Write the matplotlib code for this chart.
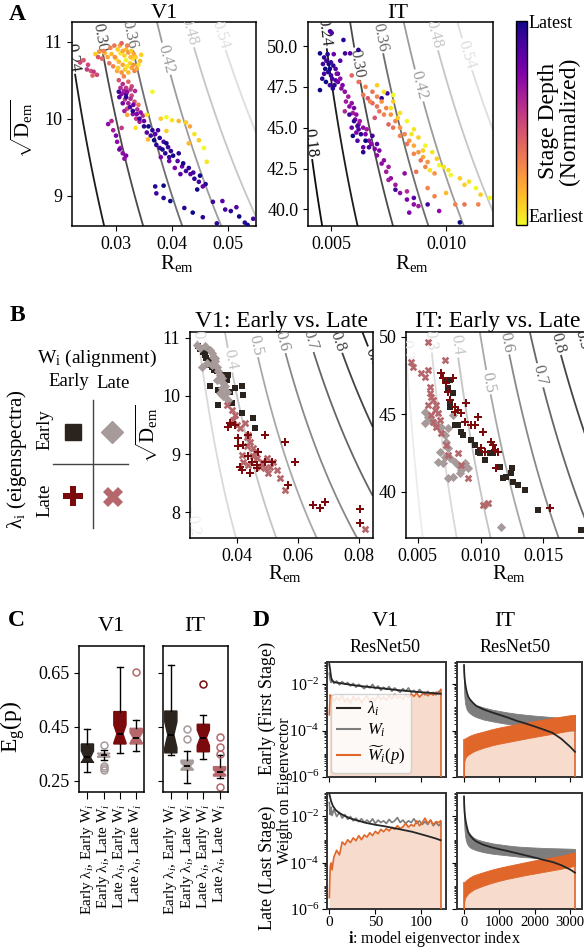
import numpy as np
import matplotlib
matplotlib.use("Agg")
import matplotlib.pyplot as plt
from matplotlib.lines import Line2D
from matplotlib.ticker import FixedLocator, LogLocator, NullFormatter, LogFormatterMathtext

plt.rcParams.update({
    "font.family": ["Liberation Serif", "DejaVu Serif"],
    "mathtext.fontset": "custom",
    "mathtext.rm": "Liberation Serif",
    "mathtext.it": "Liberation Serif:italic",
    "mathtext.bf": "Liberation Serif:bold",
    "axes.linewidth": 1.1,
    "xtick.labelsize": 13,
    "ytick.labelsize": 13,
})

# ---------------------------------------------------------------- data
# Panel A: (R_em, sqrt(D_em), normalized stage depth) per model stage
A_V1 = [
    (0.0270, 10.87, 0.25), (0.0280, 10.85, 0.15), (0.0290, 10.92, 0.30), (0.0297, 10.95, 0.35),
    (0.0303, 10.90, 0.10), (0.0308, 10.85, 0.05), (0.0312, 10.88, 0.20), (0.0318, 10.90, 0.15),
    (0.0322, 10.86, 0.25), (0.0327, 10.88, 0.10), (0.0332, 10.84, 0.20), (0.0300, 10.78, 0.05),
    (0.0305, 10.74, 0.15), (0.0312, 10.70, 0.20), (0.0318, 10.76, 0.00), (0.0325, 10.72, 0.10),
    (0.0330, 10.78, 0.05), (0.0335, 10.80, 0.10), (0.0295, 10.68, 0.30), (0.0302, 10.62, 0.20),
    (0.0310, 10.60, 0.25), (0.0316, 10.64, 0.10), (0.0322, 10.60, 0.15), (0.0328, 10.66, 0.20),
    (0.0333, 10.62, 0.30), (0.0340, 10.70, 0.05), (0.0345, 10.83, 0.10), (0.0285, 10.80, 0.20),
    (0.0278, 10.88, 0.30), (0.0263, 10.84, 0.10),
    (0.0292, 10.84, 0.15), (0.0298, 10.80, 0.25), (0.0307, 10.95, 0.20), (0.0315, 10.82, 0.10),
    (0.0320, 10.95, 0.30), (0.0326, 10.80, 0.15), (0.0331, 10.70, 0.25), (0.0337, 10.65, 0.20),
    (0.0304, 10.66, 0.10), (0.0314, 10.55, 0.30), (0.0320, 10.68, 0.05), (0.0288, 10.72, 0.35),
    (0.0275, 10.78, 0.40), (0.0268, 10.80, 0.45), (0.0310, 10.98, 0.40), (0.0343, 10.75, 0.15),
    (0.0236, 10.73, 0.50), (0.0242, 10.76, 0.45), (0.0250, 10.70, 0.50), (0.0255, 10.62, 0.45),
    (0.0260, 10.61, 0.55), (0.0266, 10.57, 0.50), (0.0258, 10.56, 0.40), (0.0248, 10.64, 0.55),
    (0.0305, 10.50, 0.45), (0.0312, 10.45, 0.60), (0.0318, 10.40, 0.55), (0.0322, 10.48, 0.40),
    (0.0328, 10.42, 0.50), (0.0334, 10.36, 0.60), (0.0310, 10.32, 0.70), (0.0316, 10.25, 0.55),
    (0.0322, 10.20, 0.65), (0.0328, 10.30, 0.50), (0.0333, 10.22, 0.45), (0.0338, 10.12, 0.60),
    (0.0330, 10.06, 0.70), (0.0336, 10.00, 0.55), (0.0342, 9.96, 0.65), (0.0348, 10.04, 0.60),
    (0.0320, 10.13, 0.50), (0.0312, 10.20, 0.75), (0.0306, 10.28, 0.85), (0.0318, 10.32, 0.90),
    (0.0325, 10.15, 0.85), (0.0340, 10.18, 0.35),
    (0.0308, 10.40, 0.60), (0.0314, 10.36, 0.65), (0.0320, 10.35, 0.70), (0.0326, 10.26, 0.60),
    (0.0331, 10.18, 0.80), (0.0337, 10.06, 0.75), (0.0344, 10.08, 0.70), (0.0350, 9.97, 0.80),
    (0.0326, 10.38, 0.55), (0.0315, 10.10, 0.65),
    (0.0305, 10.35, 0.90), (0.0318, 10.28, 0.95), (0.0330, 10.10, 0.95), (0.0342, 10.00, 0.90),
    (0.0350, 9.90, 0.95), (0.0355, 9.82, 0.85), (0.0362, 9.78, 0.90), (0.0368, 9.72, 1.00),
    (0.0372, 9.66, 0.95), (0.0378, 9.62, 0.90), (0.0383, 9.60, 1.00), (0.0388, 9.55, 0.95),
    (0.0385, 9.70, 0.85), (0.0393, 9.63, 0.90), (0.0398, 9.58, 0.95), (0.0402, 9.52, 1.00),
    (0.0410, 9.45, 0.85), (0.0418, 9.38, 0.80), (0.0425, 9.32, 0.90), (0.0433, 9.28, 0.85),
    (0.0440, 9.22, 0.95), (0.0448, 9.18, 0.90), (0.0455, 9.12, 0.80), (0.0445, 9.08, 1.00),
    (0.0405, 9.36, 0.75), (0.0395, 9.45, 0.80), (0.0375, 9.85, 0.90), (0.0380, 9.50, 0.75),
    (0.0358, 9.90, 1.00), (0.0365, 9.85, 0.95), (0.0370, 9.80, 0.85), (0.0378, 9.75, 0.95),
    (0.0390, 9.68, 1.00), (0.0395, 9.50, 0.90), (0.0412, 9.55, 0.95), (0.0420, 9.42, 1.00),
    (0.0430, 9.36, 0.95), (0.0438, 9.30, 0.90), (0.0450, 9.26, 1.00), (0.0460, 9.15, 0.95),
    (0.0415, 9.28, 0.85),
    (0.0370, 9.12, 0.95), (0.0385, 9.13, 1.00), (0.0372, 9.03, 0.90), (0.0385, 8.97, 0.95),
    (0.0397, 8.93, 1.00), (0.0422, 8.84, 0.95), (0.0437, 8.78, 1.00), (0.0455, 8.72, 0.95),
    (0.0473, 8.92, 0.90), (0.0490, 8.93, 0.85), (0.0495, 8.82, 0.90), (0.0505, 8.80, 0.95),
    (0.0515, 8.85, 0.85), (0.0520, 8.73, 1.00), (0.0530, 8.65, 0.95), (0.0545, 8.70, 0.90),
    (0.0535, 8.62, 1.00), (0.0480, 8.64, 0.95),
    (0.0286, 9.93, 0.70), (0.0295, 9.85, 0.65), (0.0300, 9.78, 0.75), (0.0302, 9.70, 0.70),
    (0.0308, 9.62, 0.65), (0.0312, 9.55, 0.70), (0.0318, 9.52, 0.75), (0.0292, 9.97, 0.60),
    (0.0306, 9.60, 0.80), (0.0315, 9.48, 0.70), (0.0310, 9.88, 0.55),
    (0.0365, 10.35, 0.00), (0.0355, 10.05, 0.05), (0.0380, 10.00, 0.10), (0.0390, 10.02, 0.00),
    (0.0400, 9.98, 0.05), (0.0412, 9.97, 0.15), (0.0425, 9.95, 0.10), (0.0432, 9.90, 0.20),
    (0.0440, 9.80, 0.05), (0.0448, 9.72, 0.10), (0.0457, 9.62, 0.00), (0.0462, 9.44, 0.05),
    (0.0430, 9.68, 0.15), (0.0390, 9.84, 0.10), (0.0335, 9.88, 0.05), (0.0320, 10.05, 0.20),
    (0.0357, 9.73, 0.15),
]

A_IT = [
    (0.00496, 50.90, 0.90), (0.00503, 50.80, 0.85), (0.00554, 50.37, 0.95), (0.00561, 49.55, 0.90),
    (0.00583, 49.55, 0.85), (0.00619, 49.76, 0.95), (0.00452, 49.55, 1.00), (0.00470, 49.30, 0.95),
    (0.00480, 49.10, 0.90), (0.00490, 48.90, 1.00), (0.00500, 49.00, 0.90), (0.00510, 48.80, 0.95),
    (0.00475, 48.60, 1.00), (0.00488, 48.40, 0.95), (0.00500, 48.20, 0.90), (0.00462, 48.00, 0.95),
    (0.00478, 47.80, 1.00), (0.00495, 47.60, 0.90), (0.00508, 47.40, 0.95), (0.00520, 47.90, 0.85),
    (0.00530, 48.30, 0.90), (0.00465, 48.90, 0.90), (0.00512, 49.50, 0.80), (0.00540, 49.10, 0.85),
    (0.00452, 47.30, 1.00),
    (0.00485, 49.50, 0.95), (0.00495, 48.60, 1.00), (0.00505, 48.00, 0.90), (0.00515, 47.60, 0.95),
    (0.00470, 48.30, 0.90), (0.00520, 48.60, 0.85), (0.00530, 47.80, 0.80),
    (0.00525, 48.30, 0.75), (0.00540, 48.00, 0.70), (0.00550, 47.60, 0.75), (0.00560, 47.20, 0.70),
    (0.00575, 46.90, 0.65), (0.00590, 46.50, 0.70), (0.00600, 46.20, 0.75), (0.00610, 45.80, 0.70),
    (0.00625, 45.40, 0.65), (0.00640, 45.00, 0.70), (0.00650, 44.60, 0.75), (0.00665, 44.20, 0.70),
    (0.00690, 43.70, 0.75), (0.00700, 43.30, 0.70), (0.00590, 45.00, 0.80), (0.00610, 44.70, 0.75),
    (0.00640, 43.80, 0.80), (0.00560, 46.00, 0.60), (0.00720, 42.80, 0.70), (0.00740, 42.30, 0.65),
    (0.00760, 41.90, 0.70), (0.00780, 41.50, 0.65), (0.00800, 41.00, 0.70), (0.00830, 40.60, 0.75),
    (0.00860, 40.30, 0.70), (0.00820, 42.20, 0.70),
    (0.00545, 47.40, 0.70), (0.00565, 46.60, 0.65), (0.00580, 46.30, 0.70), (0.00595, 45.90, 0.65),
    (0.00605, 45.50, 0.75), (0.00620, 45.20, 0.70), (0.00655, 44.90, 0.65), (0.00675, 44.00, 0.70),
    (0.00710, 43.60, 0.75), (0.00730, 43.00, 0.70), (0.00750, 42.60, 0.65),
    (0.00580, 45.80, 0.90), (0.00600, 45.40, 0.95), (0.00615, 45.10, 0.90), (0.00630, 44.60, 0.95),
    (0.00650, 44.20, 1.00), (0.00665, 43.80, 0.90), (0.00640, 43.50, 0.95), (0.00615, 44.20, 0.85),
    (0.00595, 44.50, 1.00), (0.00680, 44.50, 0.90), (0.00700, 44.00, 0.85), (0.00720, 46.80, 0.95),
    (0.00745, 47.10, 0.90), (0.00620, 44.90, 0.85),
    (0.00590, 48.20, 0.40), (0.00620, 47.80, 0.35), (0.00650, 47.50, 0.30), (0.00680, 47.20, 0.35),
    (0.00700, 46.90, 0.30), (0.00720, 46.60, 0.25), (0.00740, 46.20, 0.30), (0.00760, 45.80, 0.25),
    (0.00780, 45.40, 0.30), (0.00800, 45.00, 0.25), (0.00820, 44.60, 0.30), (0.00840, 44.20, 0.25),
    (0.00860, 43.90, 0.20), (0.00880, 43.50, 0.25), (0.00900, 43.20, 0.20), (0.00920, 42.90, 0.25),
    (0.00680, 46.50, 0.40), (0.00710, 46.00, 0.35), (0.00750, 45.20, 0.40), (0.00690, 45.60, 0.45),
    (0.00660, 46.80, 0.45),
    (0.00640, 47.00, 0.35), (0.00670, 46.60, 0.30), (0.00700, 46.30, 0.35), (0.00730, 45.80, 0.30),
    (0.00770, 45.00, 0.35), (0.00800, 44.50, 0.30), (0.00830, 44.00, 0.35), (0.00860, 43.40, 0.30),
    (0.00890, 43.00, 0.35), (0.00910, 42.60, 0.30), (0.00950, 42.20, 0.25),
    (0.00700, 47.60, 0.10), (0.00730, 47.20, 0.05), (0.00770, 46.60, 0.10), (0.00800, 45.90, 0.05),
    (0.00830, 45.40, 0.00), (0.00860, 44.90, 0.05), (0.00880, 44.40, 0.10), (0.00910, 43.90, 0.00),
    (0.00940, 43.50, 0.05), (0.00960, 43.10, 0.10), (0.00990, 42.60, 0.05), (0.01020, 42.10, 0.00),
    (0.01060, 41.90, 0.10), (0.01100, 41.70, 0.05), (0.01130, 41.30, 0.00), (0.01190, 40.70, 0.00),
    (0.01150, 40.90, 0.10), (0.01000, 41.00, 0.15), (0.00930, 42.40, 0.05), (0.00770, 47.00, 0.00),
    (0.00760, 46.20, 0.05), (0.00790, 45.60, 0.10), (0.00850, 44.60, 0.05), (0.00900, 43.60, 0.10),
    (0.00970, 42.70, 0.00), (0.01010, 42.40, 0.05), (0.01080, 41.50, 0.10),
    (0.00920, 41.30, 0.30), (0.00950, 40.80, 0.30), (0.01040, 40.30, 0.30), (0.01080, 40.30, 0.35),
    (0.01140, 40.30, 0.30), (0.00870, 42.30, 0.35),
    (0.00780, 41.20, 0.90), (0.00830, 41.10, 0.60), (0.00860, 40.70, 0.85), (0.00880, 40.20, 0.65),
    (0.00920, 40.30, 0.90), (0.00970, 39.90, 0.70), (0.00840, 39.80, 0.75), (0.01060, 39.20, 1.00),
    (0.00750, 41.80, 0.65),
]

# Panel B: (R_em, sqrt(D_em)) for each eigenspectrum / alignment pairing
B_V1_EE = [(0.0273, 10.85), (0.0290, 10.82), (0.0306, 10.79), (0.0295, 10.70), (0.0312, 10.62),
           (0.0317, 10.50), (0.0333, 10.42), (0.0350, 10.36), (0.0312, 10.16), (0.0339, 10.10),
           (0.0372, 10.36), (0.0366, 10.27), (0.0377, 10.07), (0.0393, 10.13), (0.0415, 10.16),
           (0.0421, 10.02), (0.0339, 9.84), (0.0383, 9.87), (0.0415, 9.70), (0.0454, 9.61),
           (0.0459, 9.45), (0.0300, 10.65), (0.0306, 10.53), (0.0290, 10.76), (0.0280, 10.80),
           (0.0325, 10.45)]
B_V1_EL = [(0.0268, 10.87), (0.0279, 10.82), (0.0295, 10.85), (0.0312, 10.79), (0.0317, 10.73),
           (0.0322, 10.67), (0.0328, 10.59), (0.0333, 10.50), (0.0339, 10.42), (0.0344, 10.36),
           (0.0350, 10.30), (0.0355, 10.22), (0.0350, 10.13), (0.0366, 10.07), (0.0344, 10.04),
           (0.0355, 9.99), (0.0284, 10.50), (0.0301, 10.56), (0.0328, 10.65), (0.0317, 10.53),
           (0.0333, 10.27), (0.0361, 10.16), (0.0372, 9.93)]
B_V1_LE = [(0.0372, 9.47), (0.0377, 9.53), (0.0404, 9.27), (0.0404, 9.13), (0.0421, 9.16),
           (0.0437, 9.33), (0.0492, 9.33), (0.0557, 9.20), (0.0590, 8.86), (0.0410, 8.78),
           (0.0415, 8.73), (0.0443, 8.67), (0.0465, 8.76), (0.0465, 8.81), (0.0514, 8.87),
           (0.0437, 8.96), (0.0470, 9.04), (0.0568, 8.47), (0.0650, 8.13), (0.0672, 8.07),
           (0.0689, 8.18), (0.0803, 8.06), (0.0803, 7.81), (0.0492, 8.87), (0.0448, 8.87),
           (0.0393, 9.50)]
B_V1_LL = [(0.0366, 9.84), (0.0383, 9.76), (0.0393, 9.67), (0.0388, 9.59), (0.0399, 9.50),
           (0.0426, 9.53), (0.0410, 9.44), (0.0437, 9.33), (0.0443, 9.21), (0.0454, 9.10),
           (0.0432, 9.13), (0.0459, 9.04), (0.0421, 8.87), (0.0437, 8.81), (0.0465, 8.93),
           (0.0481, 8.87), (0.0497, 8.93), (0.0519, 8.87), (0.0508, 8.78), (0.0530, 8.73),
           (0.0503, 8.67), (0.0541, 8.58), (0.0557, 8.38), (0.0820, 7.71), (0.0432, 9.30),
           (0.0454, 8.96), (0.0475, 8.78), (0.0492, 8.76), (0.0415, 8.99)]

B_IT_EE = [(0.00755, 47.20), (0.00741, 46.67), (0.00781, 46.34), (0.00755, 45.81), (0.00755, 45.48),
           (0.00821, 44.30), (0.00847, 43.87), (0.00861, 43.66), (0.00927, 43.33), (0.00954, 43.01),
           (0.00980, 42.58), (0.00993, 42.47), (0.01033, 42.04), (0.01073, 42.47), (0.01153, 41.61),
           (0.01179, 40.86), (0.01206, 40.97), (0.01245, 41.18), (0.01259, 40.65), (0.01298, 40.43),
           (0.01351, 40.11), (0.01458, 38.82), (0.01802, 37.53), (0.00715, 47.20), (0.00794, 44.30),
           (0.01100, 42.50), (0.01250, 41.50)]
B_IT_EL = [(0.00556, 45.16), (0.00582, 44.84), (0.00609, 44.62), (0.00649, 44.30), (0.00688, 44.19),
           (0.00715, 43.66), (0.00728, 43.23), (0.00741, 42.80), (0.00675, 42.58), (0.00715, 42.26),
           (0.00755, 42.15), (0.00794, 41.94), (0.00821, 41.72), (0.00847, 41.40), (0.00834, 41.18),
           (0.00781, 40.97), (0.00741, 40.86), (0.00702, 41.83), (0.00662, 41.94), (0.00874, 41.83),
           (0.00901, 41.51), (0.01033, 39.14), (0.01166, 37.74), (0.00741, 44.09), (0.00781, 44.95),
           (0.00556, 44.41)]
B_IT_LE = [(0.00688, 47.63), (0.00702, 47.31), (0.00728, 46.99), (0.00741, 46.45), (0.00781, 47.31),
           (0.00755, 45.91), (0.00794, 45.48), (0.00821, 45.27), (0.00847, 45.05), (0.00887, 45.70),
           (0.00874, 44.52), (0.00927, 44.30), (0.00980, 44.84), (0.01020, 43.87), (0.00954, 44.30),
           (0.01007, 42.80), (0.01033, 42.58), (0.01086, 43.23), (0.01113, 42.69), (0.01139, 42.58),
           (0.01126, 41.51), (0.01550, 38.92), (0.01101, 43.01), (0.00794, 45.16)]
B_IT_LL = [(0.00450, 48.39), (0.00463, 48.06), (0.00529, 47.63), (0.00556, 47.42), (0.00582, 47.85),
           (0.00595, 46.77), (0.00609, 46.13), (0.00622, 45.91), (0.00582, 45.59), (0.00635, 45.27),
           (0.00662, 45.05), (0.00609, 44.95), (0.00622, 44.52), (0.00675, 44.62), (0.00715, 48.49),
           (0.00649, 44.19), (0.00688, 43.76), (0.00728, 43.01), (0.00741, 42.37), (0.00821, 42.47),
           (0.00847, 41.72), (0.00901, 40.86), (0.01020, 39.14), (0.01060, 39.25), (0.00595, 46.34),
           (0.00649, 45.59), (0.00582, 49.68)]

# Panel C: box statistics of E_g(p) per condition
C_LABELS = ["Early λ$_i$, Early W$_i$", "Early λ$_i$, Late W$_i$",
            "Late λ$_i$, Early W$_i$", "Late λ$_i$, Late W$_i$"]
C_V1 = [
    dict(med=0.336, q1=0.318, q3=0.386, whislo=0.283, whishi=0.440, cilo=0.316, cihi=0.360, fliers=[]),
    dict(med=0.345, q1=0.337, q3=0.352, whislo=0.325, whishi=0.365, cilo=0.340, cihi=0.350,
         fliers=[0.381, 0.303, 0.296, 0.289]),
    dict(med=0.423, q1=0.386, q3=0.506, whislo=0.353, whishi=0.671, cilo=0.390, cihi=0.456, fliers=[]),
    dict(med=0.409, q1=0.386, q3=0.444, whislo=0.360, whishi=0.475, cilo=0.390, cihi=0.428,
         fliers=[0.652]),
]
C_IT = [
    dict(med=0.420, q1=0.353, q3=0.508, whislo=0.345, whishi=0.678, cilo=0.372, cihi=0.468, fliers=[]),
    dict(med=0.304, q1=0.289, q3=0.326, whislo=0.243, whishi=0.360, cilo=0.292, cihi=0.316,
         fliers=[0.441, 0.403]),
    dict(med=0.409, q1=0.357, q3=0.459, whislo=0.329, whishi=0.493, cilo=0.380, cihi=0.438,
         fliers=[0.609]),
    dict(med=0.281, q1=0.267, q3=0.302, whislo=0.259, whishi=0.345, cilo=0.272, cihi=0.290,
         fliers=[0.413, 0.376, 0.350, 0.225]),
]

# Panel D: eigenspectrum (lambda_i), alignment weights (W_i) and p-weighted alignment
V1_IDX = [0, 1, 2, 3, 5, 8, 11, 14, 17, 20, 23, 26, 29, 32, 35, 38, 41, 44, 47, 50, 53, 56,
          59, 62, 65, 68, 71, 74, 77, 80, 83, 86, 89, 92, 95, 98, 101, 104, 107, 110, 113,
          116, 119, 121]
V1_TOP_W = [3.0e-2, 1.5e-2, 1.2e-2, 1.6e-2, 1.1e-2, 1.4e-2, 9.5e-3, 1.3e-2, 1.0e-2, 1.2e-2,
            8.5e-3, 1.1e-2, 7.5e-3, 1.0e-2, 8.0e-3, 6.5e-3, 9.0e-3, 7.0e-3, 1.0e-2, 6.5e-3,
            8.5e-3, 5.5e-3, 7.5e-3, 6.0e-3, 8.0e-3, 5.0e-3, 7.0e-3, 5.5e-3, 4.5e-3, 6.5e-3,
            5.0e-3, 7.0e-3, 4.5e-3, 5.5e-3, 4.0e-3, 6.0e-3, 4.5e-3, 3.5e-3, 5.0e-3, 3.8e-3,
            4.5e-3, 3.5e-3, 5.0e-3, 4.5e-3]
V1_TOP_WP = [4.8e-4, 3.5e-3, 2.5e-3, 3.2e-3, 1.8e-3, 2.8e-3, 2.0e-3, 3.5e-3, 1.7e-3, 2.6e-3,
             1.5e-3, 3.0e-3, 2.0e-3, 2.8e-3, 1.6e-3, 2.4e-3, 3.2e-3, 1.8e-3, 2.6e-3, 2.0e-3,
             3.4e-3, 2.2e-3, 2.9e-3, 2.0e-3, 3.3e-3, 2.4e-3, 3.8e-3, 2.5e-3, 3.0e-3, 2.3e-3,
             3.6e-3, 2.6e-3, 3.9e-3, 3.0e-3, 4.2e-3, 2.8e-3, 3.7e-3, 4.5e-3, 3.2e-3, 4.0e-3,
             3.4e-3, 4.6e-3, 3.8e-3, 6.0e-3]
V1_BOT_W = [4.0e-2, 1.2e-2, 2.5e-2, 1.1e-2, 2.0e-2, 1.0e-2, 1.5e-2, 8.5e-3, 1.2e-2, 7.5e-3,
            1.0e-2, 6.5e-3, 8.5e-3, 6.0e-3, 8.0e-3, 5.5e-3, 7.0e-3, 5.5e-3, 8.0e-3, 5.0e-3,
            7.0e-3, 5.5e-3, 6.5e-3, 5.0e-3, 7.5e-3, 5.5e-3, 6.5e-3, 9.0e-3, 5.5e-3, 7.0e-3,
            5.0e-3, 6.5e-3, 5.5e-3, 8.0e-3, 5.0e-3, 6.5e-3, 4.5e-3, 6.0e-3, 4.5e-3, 7.0e-3,
            4.0e-3, 5.5e-3, 4.0e-3, 5.0e-3]
V1_BOT_WP = [3.2e-6, 7.0e-5, 1.0e-4, 5.0e-5, 1.8e-4, 3.5e-4, 2.2e-4, 8.0e-4, 6.0e-4, 1.0e-3,
             7.5e-4, 1.2e-3, 9.0e-4, 1.5e-3, 1.0e-3, 1.6e-3, 1.3e-3, 2.0e-3, 1.5e-3, 2.3e-3,
             1.8e-3, 2.8e-3, 2.2e-3, 3.0e-3, 2.4e-3, 3.4e-3, 2.8e-3, 4.0e-3, 3.0e-3, 3.6e-3,
             5.0e-3, 3.5e-3, 4.5e-3, 3.8e-3, 6.5e-3, 4.0e-3, 5.5e-3, 8.5e-3, 5.0e-3, 7.0e-3,
             4.5e-3, 6.0e-3, 5.5e-3, 6.5e-3]
V1_TOP_LAM_IDX = [0, 1, 2, 3, 5, 10, 15, 25, 40, 57, 75, 90, 104, 121]
V1_TOP_LAM = [7.6e-2, 4.0e-2, 2.0e-2, 1.5e-2, 1.25e-2, 1.15e-2, 1.08e-2, 9.3e-3, 7.9e-3,
              6.7e-3, 5.6e-3, 4.9e-3, 4.4e-3, 3.9e-3]
V1_BOT_LAM_IDX = [0, 1, 2, 4, 7, 11, 16, 22, 30, 40, 50, 60, 75, 90, 105, 115, 121]
V1_BOT_LAM = [9.5e-2, 6.5e-2, 4.5e-2, 2.8e-2, 1.9e-2, 1.4e-2, 1.1e-2, 8.5e-3, 6.8e-3, 5.3e-3,
              4.4e-3, 3.8e-3, 2.9e-3, 2.2e-3, 1.5e-3, 1.15e-3, 9.5e-4]

IT_IDX = [0, 5, 15, 30, 50, 80, 120, 170, 250, 350, 550, 800, 1000, 1250, 1500, 1750, 2000,
          2250, 2500, 2750, 3000, 3140]
IT_TOP_LAM = [6.8e-2, 3.5e-2, 2.0e-2, 1.2e-2, 7.5e-3, 4.5e-3, 2.9e-3, 2.2e-3, 1.6e-3, 1.15e-3,
              8.2e-4, 6.0e-4, 4.8e-4, 3.6e-4, 2.6e-4, 2.0e-4, 1.5e-4, 1.1e-4, 8.0e-5, 4.4e-5,
              2.0e-5, 1.2e-5]
IT_TOP_W_HI = [3.5e-2, 1.5e-2, 8e-3, 5.5e-3, 4e-3, 3e-3, 2.3e-3, 1.9e-3, 1.5e-3, 1.25e-3, 1.0e-3,
               8e-4, 7e-4, 6e-4, 5.3e-4, 4.8e-4, 4.4e-4, 4.1e-4, 3.8e-4, 3.6e-4, 3.4e-4, 3.3e-4]
IT_TOP_W_LO = [1.0e-2, 4e-3, 2.5e-3, 1.5e-3, 1.1e-3, 8e-4, 6.5e-4, 5.5e-4, 4.5e-4, 3.8e-4, 3.0e-4,
               2.5e-4, 2.2e-4, 1.9e-4, 1.7e-4, 1.5e-4, 1.35e-4, 1.25e-4, 1.15e-4, 1.1e-4, 1.0e-4,
               1.0e-4]
IT_TOP_WP_HI = [1.0e-6, 4.5e-5, 4.5e-5, 4.5e-5, 4.8e-5, 5.0e-5, 5.5e-5, 6.0e-5, 6.7e-5, 7.5e-5,
                9.0e-5, 1.15e-4, 1.35e-4, 1.6e-4, 1.9e-4, 2.2e-4, 2.6e-4, 3.0e-4, 3.5e-4, 4.0e-4,
                4.6e-4, 4.8e-4]
IT_TOP_WP_LO = [1.0e-6, 4.0e-6, 5.0e-6, 6.0e-6, 7.0e-6, 8.0e-6, 9.0e-6, 1.0e-5, 1.2e-5, 1.4e-5,
                1.8e-5, 2.3e-5, 2.7e-5, 3.2e-5, 3.8e-5, 4.5e-5, 5.3e-5, 6.2e-5, 7.2e-5, 8.5e-5,
                1.0e-4, 1.1e-4]
IT_BOT_LAM = [7.3e-2, 3.2e-2, 1.6e-2, 9.5e-3, 6.0e-3, 3.6e-3, 2.1e-3, 1.55e-3, 1.1e-3, 8.3e-4,
              6.0e-4, 4.6e-4, 3.9e-4, 3.2e-4, 2.6e-4, 2.1e-4, 1.7e-4, 1.35e-4, 1.1e-4, 8.0e-5,
              5.2e-5, 3.8e-5]
IT_BOT_W_HI = [5e-2, 2e-2, 1e-2, 6e-3, 4e-3, 2.8e-3, 2.1e-3, 1.7e-3, 1.3e-3, 1.05e-3, 8.5e-4,
               7e-4, 6.3e-4, 5.6e-4, 5.1e-4, 4.8e-4, 4.6e-4, 4.4e-4, 4.3e-4, 4.2e-4, 4.1e-4, 4.0e-4]
IT_BOT_W_LO = [1.5e-2, 5e-3, 2.5e-3, 1.5e-3, 1.0e-3, 7e-4, 5.5e-4, 4.6e-4, 4.0e-4, 3.5e-4, 2.9e-4,
               2.5e-4, 2.3e-4, 2.1e-4, 1.9e-4, 1.75e-4, 1.65e-4, 1.55e-4, 1.5e-4, 1.45e-4, 1.4e-4,
               1.4e-4]
IT_BOT_WP_HI = [1.0e-6, 1.5e-5, 1.5e-5, 1.6e-5, 1.7e-5, 1.9e-5, 2.1e-5, 2.4e-5, 2.8e-5, 3.2e-5,
                4.0e-5, 5.2e-5, 6.2e-5, 7.5e-5, 9.0e-5, 1.08e-4, 1.3e-4, 1.5e-4, 1.75e-4, 2.0e-4,
                2.6e-4, 2.8e-4]
IT_BOT_WP_LO = [1.0e-6, 2.0e-6, 2.5e-6, 3.0e-6, 3.5e-6, 4.0e-6, 4.8e-6, 5.5e-6, 6.8e-6, 8.0e-6,
                1.05e-5, 1.4e-5, 1.7e-5, 2.1e-5, 2.5e-5, 3.0e-5, 3.5e-5, 4.1e-5, 4.8e-5, 5.6e-5,
                6.8e-5, 7.5e-5]

# ---------------------------------------------------------------- styling
C_EE, C_EL, C_LE, C_LL = "#2b231d", "#a79a9a", "#7a0a0c", "#b5676b"
LAM_C, W_C, WP_C, FILL_C = "#262626", "#7d7d7d", "#e0662a", "#f7dccd"

W, H = 584, 949
fig = plt.figure(figsize=(W / 100, H / 100), dpi=100)


def px_axes(left, top, right, bottom):
    return fig.add_axes([left / W, 1 - bottom / H, (right - left) / W, (bottom - top) / H])


def ftext(x, y, s, **kw):
    fig.text(x / W, 1 - y / H, s, **kw)


def eg_contours(ax, levels, colors, fmt, manual, fs=12):
    x0, x1 = ax.get_xlim()
    y0, y1 = ax.get_ylim()
    R, S = np.meshgrid(np.linspace(x0, x1, 400), np.linspace(y0, y1, 400))
    cs = ax.contour(R, S, R * S, levels=levels, colors=colors, linewidths=1.3, zorder=1)
    ax.clabel(cs, inline=True, fontsize=fs, fmt=fmt, manual=manual, inline_spacing=2)


R_LAB = r"$\mathrm{R}_{\mathrm{em}}$"
D_LAB = r"$\sqrt{\mathrm{D}_{\mathrm{em}}}$"

# ---------------------------------------------------------------- panel A
A_LEVELS = [0.18, 0.24, 0.30, 0.36, 0.42, 0.48, 0.54]
A_COLORS = ["#0d0d0d", "#1c1c1c", "#4a4a4a", "#6e6e6e", "#9c9c9c", "#c6c6c6", "#dedede"]

axA1 = px_axes(72, 22, 256, 226)
axA1.set_xlim(0.02214, 0.055)
axA1.set_ylim(8.606, 11.256)
eg_contours(axA1, A_LEVELS, A_COLORS, lambda v: f"{v:.2f}",
            [(0.0226, 10.8), (0.02745, 11.06), (0.0325, 11.1), (0.039, 10.78),
             (0.0438, 11.15), (0.0488, 11.1)])
r, d, s = zip(*A_V1)
axA1.scatter(r, d, c=s, cmap="plasma_r", vmin=0, vmax=1, s=11, linewidths=0, zorder=3)
axA1.set_xticks([0.03, 0.04, 0.05], ["0.03", "0.04", "0.05"])
axA1.set_yticks([9, 10, 11])
axA1.set_xlabel(R_LAB, fontsize=15)
axA1.xaxis.set_label_coords(0.57, -0.13)
axA1.set_ylabel(D_LAB, fontsize=15)
axA1.yaxis.set_label_coords(-0.2, 0.48)

axA2 = px_axes(308, 22, 493, 226)
axA2.set_xlim(0.0040, 0.01204)
axA2.set_ylim(38.98, 51.47)
eg_contours(axA2, A_LEVELS, A_COLORS, lambda v: f"{v:.2f}",
            [(0.00416, 44.1), (0.00481, 50.88), (0.00626, 48.94), (0.0072, 50.57),
             (0.00887, 47.6), (0.0096, 50.78), (0.01104, 49.55)])
r, d, s = zip(*A_IT)
axA2.scatter(r, d, c=s, cmap="plasma_r", vmin=0, vmax=1, s=11, linewidths=0, zorder=3)
axA2.set_xticks([0.005, 0.010], ["0.005", "0.010"])
axA2.set_yticks([40, 42.5, 45, 47.5, 50], ["40.0", "42.5", "45.0", "47.5", "50.0"])
axA2.set_xlabel(R_LAB, fontsize=15)
axA2.xaxis.set_label_coords(0.56, -0.13)

ftext(164, 14, "V1", fontsize=16, ha="center", va="center")
ftext(398, 14, "IT", fontsize=16, ha="center", va="center")

cax = px_axes(515.7, 20.7, 526.7, 225)
sm = plt.cm.ScalarMappable(norm=plt.Normalize(0, 1), cmap="plasma_r")
cb = fig.colorbar(sm, cax=cax, ticks=[])
cb.outline.set_linewidth(1.0)
cax.text(1.18, 0.985, "Latest", transform=cax.transAxes, fontsize=13, va="center", ha="left")
cax.text(1.18, 0.035, "Earliest", transform=cax.transAxes, fontsize=13, va="center", ha="left")
ftext(559, 121, "Stage Depth\n(Normalized)", fontsize=17, rotation=90, ha="center",
      va="center", linespacing=1.05)

# ---------------------------------------------------------------- panel B
B_LEVELS = [0.2, 0.3, 0.4, 0.5, 0.6, 0.7, 0.8, 0.9]
B_COLORS = ["#ececec", "#dadada", "#c4c4c4", "#a8a8a8", "#888888", "#666666", "#444444", "#222222"]
MK = dict(linewidths=0)


def b_scatter(ax, groups):
    for pts, marker, color, size in groups:
        r, d = zip(*pts)
        ax.scatter(r, d, marker=marker, color=color, s=size, zorder=3, **MK)


axB1 = px_axes(189.7, 332.3, 372.7, 538.3)
axB1.set_xlim(0.0245, 0.0845)
axB1.set_ylim(7.553, 11.09)
eg_contours(axB1, B_LEVELS, B_COLORS, lambda v: f"{v:.1f}",
            [(0.0262, 7.78), (0.0290, 10.96), (0.0383, 10.62), (0.0459, 10.87),
             (0.0541, 10.93), (0.0623, 10.93), (0.0710, 10.9), (0.0825, 10.5)])
b_scatter(axB1, [(B_V1_EE, "s", C_EE, 24), (B_V1_EL, "D", C_EL, 22),
                 (B_V1_LL, "X", C_LL, 30), (B_V1_LE, "P", C_LE, 30)])
axB1.set_xticks([0.04, 0.06, 0.08], ["0.04", "0.06", "0.08"])
axB1.set_yticks([8, 9, 10, 11])
axB1.set_xlabel(R_LAB, fontsize=15)
axB1.xaxis.set_label_coords(0.52, -0.12)
axB1.set_ylabel(D_LAB, fontsize=15)
axB1.yaxis.set_label_coords(-0.165, 0.51)
axB1.set_title("V1: Early vs. Late", fontsize=17, pad=4)

axB2 = px_axes(406, 332.3, 590, 538.3)
axB2.set_xlim(0.00407, 0.0187)
axB2.set_ylim(36.99, 50.28)
eg_contours(axB2, B_LEVELS, B_COLORS, lambda v: f"{v:.1f}",
            [(0.00476, 49.14), (0.00622, 49.78), (0.00821, 49.46), (0.01086, 47.1),
             (0.01232, 49.68), (0.01484, 47.53), (0.01603, 49.57), (0.01802, 49.78)])
b_scatter(axB2, [(B_IT_EL, "D", C_EL, 22), (B_IT_LL, "X", C_LL, 30),
                 (B_IT_EE, "s", C_EE, 24), (B_IT_LE, "P", C_LE, 30)])
axB2.set_xticks([0.005, 0.010, 0.015], ["0.005", "0.010", "0.015"])
axB2.set_yticks([40, 45, 50])
axB2.set_xlabel(R_LAB, fontsize=15)
axB2.xaxis.set_label_coords(0.56, -0.12)
axB2.set_title("IT: Early vs. Late", fontsize=17, pad=4)

# schematic key for the four pairings
axK = px_axes(40, 395, 140, 535)
axK.set_xlim(0, 1)
axK.set_ylim(0, 1)
axK.axis("off")
axK.plot([0.527, 0.527], [0.05, 0.964], color="#444444", lw=1.0)
axK.plot([0.13, 0.88], [0.507, 0.507], color="#444444", lw=1.0)
axK.plot([0.327], [0.738], marker="s", ms=12, color=C_EE, ls="none")
axK.plot([0.717], [0.738], marker="D", ms=11, color=C_EL, ls="none")
axK.plot([0.327], [0.279], marker="P", ms=14, color=C_LE, ls="none", mew=0)
axK.plot([0.733], [0.274], marker="X", ms=14, color=C_LL, ls="none", mew=0)
ftext(97, 358, "W$_\\mathrm{i}$ (alignment)", fontsize=14, ha="center", va="center")
ftext(69, 382, "Early", fontsize=13.5, ha="center", va="center")
ftext(113, 384, "Late", fontsize=13.5, ha="center", va="center")
ftext(45, 430, "Early", fontsize=13.5, ha="center", va="center", rotation=90)
ftext(45, 500, "Late", fontsize=13.5, ha="center", va="center", rotation=90)
ftext(17, 459, "λ$_\\mathrm{i}$ (eigenspectra)", fontsize=15, ha="center", va="center",
      rotation=90)

# ---------------------------------------------------------------- panel C
BOX_COLORS = [C_EE, C_EL, C_LE, C_LL]


def c_boxes(ax, stats, title, show_y):
    bp = ax.bxp(stats, positions=[1, 2, 3, 4], widths=0.75, shownotches=True,
                patch_artist=True, showfliers=True,
                medianprops=dict(color="black", lw=1.3),
                whiskerprops=dict(color="black", lw=1.0),
                capprops=dict(color="black", lw=1.0),
                flierprops=dict(marker="o", markerfacecolor="none", markersize=5, mew=1.1))
    for patch, c in zip(bp["boxes"], BOX_COLORS):
        patch.set_facecolor(c)
        patch.set_edgecolor(c)
    for fl, c in zip(bp["fliers"], BOX_COLORS):
        fl.set_markeredgecolor(c)
    ax.set_xlim(0.5, 4.5)
    ax.set_ylim(0.208, 0.749)
    ax.set_yticks([0.25, 0.45, 0.65])
    if show_y:
        ax.set_yticklabels(["0.25", "0.45", "0.65"])
    else:
        ax.set_yticklabels([])
    ax.set_xticks([1, 2, 3, 4])
    ax.set_xticklabels(C_LABELS, rotation=90, fontsize=11)
    ax.tick_params(axis="x", length=5)
    ax.set_title(title, fontsize=16, pad=11)


axC1 = px_axes(79.3, 646, 144.3, 792)
c_boxes(axC1, C_V1, "V1", True)
axC1.set_ylabel("E$_\\mathrm{g}$(p)", fontsize=17)
axC1.yaxis.set_label_coords(-0.8, 0.445)
axC2 = px_axes(162.7, 646, 227.7, 792)
c_boxes(axC2, C_IT, "IT", False)

# ---------------------------------------------------------------- panel D


def d_axes(ax, xlim, ytop):
    ax.set_yscale("log")
    ax.set_xlim(*xlim)
    ax.set_ylim(1e-6, ytop)
    ax.yaxis.set_major_locator(FixedLocator([1e-6, 1e-4, 1e-2]))
    ax.yaxis.set_major_formatter(LogFormatterMathtext())
    ax.yaxis.set_minor_locator(LogLocator(base=10, subs=np.arange(1, 10), numticks=20))
    ax.yaxis.set_minor_formatter(NullFormatter())
    ax.tick_params(axis="y", labelsize=11.5, pad=2)
    ax.tick_params(axis="x", labelsize=11, pad=1.5, length=3.5)
    for sp in ax.spines.values():
        sp.set_linewidth(1.4)
        sp.set_color("#333333")


def d_v1(ax, lam_idx, lam, w, wp):
    ax.fill_between(V1_IDX, 1e-7, wp, color=FILL_C, lw=0, zorder=1)
    ax.plot(V1_IDX, w, color=W_C, lw=1.2, zorder=2)
    ax.plot(V1_IDX, wp, color=WP_C, lw=1.2, zorder=3)
    ax.vlines(V1_IDX[-1], 1e-7, wp[-1], color=WP_C, lw=1.2, zorder=3)
    ax.plot(lam_idx, lam, color=LAM_C, lw=1.3, zorder=4)
    ax.set_xticks([0, 50, 100])


def d_it(ax, lam, w_hi, w_lo, wp_hi, wp_lo):
    ax.fill_between(IT_IDX, 1e-7, wp_hi, color=FILL_C, lw=0, zorder=1)
    ax.fill_between(IT_IDX, w_lo, w_hi, color=W_C, lw=0.6, ec=W_C, zorder=2)
    ax.fill_between(IT_IDX, wp_lo, wp_hi, color=WP_C, lw=0.6, ec=WP_C, zorder=3)
    ax.vlines([IT_IDX[0], IT_IDX[-1]], 1e-7, [wp_hi[1], wp_hi[-1]], color=WP_C, lw=1.2, zorder=3)
    ax.plot(IT_IDX, lam, color=LAM_C, lw=1.3, zorder=4)
    ax.set_xticks([0, 1000, 2000, 3000])


axD1 = px_axes(327, 662.3, 445.7, 776.7)
d_axes(axD1, (-2.5, 126.5), 0.09)
d_v1(axD1, V1_TOP_LAM_IDX, V1_TOP_LAM, V1_TOP_W, V1_TOP_WP)
axD1.set_xticklabels([])
leg = axD1.legend(handles=[Line2D([], [], color=LAM_C, lw=1.5),
                           Line2D([], [], color=W_C, lw=1.5),
                           Line2D([], [], color=WP_C, lw=1.5)],
                  labels=[r"$\lambda_i$", r"$W_i$", r"$\widetilde{W}_i(p)$"],
                  loc="lower left", fontsize=12, handlelength=1.4, handletextpad=0.4,
                  labelspacing=0.25, borderpad=0.35, borderaxespad=0.25, framealpha=0.85)
leg.set_zorder(10)

axD2 = px_axes(457.3, 662.3, 581.7, 776.7)
d_axes(axD2, (-190, 3330), 0.09)
d_it(axD2, IT_TOP_LAM, IT_TOP_W_HI, IT_TOP_W_LO, IT_TOP_WP_HI, IT_TOP_WP_LO)
axD2.set_xticklabels([])
axD2.set_yticklabels([])

axD3 = px_axes(327, 793.3, 445.7, 909.3)
d_axes(axD3, (-2.5, 126.5), 0.1)
d_v1(axD3, V1_BOT_LAM_IDX, V1_BOT_LAM, V1_BOT_W, V1_BOT_WP)

axD4 = px_axes(457.3, 793.3, 581.7, 909.3)
d_axes(axD4, (-190, 3330), 0.1)
d_it(axD4, IT_BOT_LAM, IT_BOT_W_HI, IT_BOT_W_LO, IT_BOT_WP_HI, IT_BOT_WP_LO)
axD4.set_yticklabels([])
axD4.tick_params(axis="x", labelsize=10.5)

ftext(385, 622, "V1", fontsize=16, ha="center", va="center")
ftext(385, 648, "ResNet50", fontsize=13, ha="center", va="center")
ftext(505, 622, "IT", fontsize=16, ha="center", va="center")
ftext(515, 648, "ResNet50", fontsize=13, ha="center", va="center")
ftext(267, 708, "Early (First Stage)", fontsize=13, ha="center", va="center", rotation=90)
ftext(267, 868, "Late (Last Stage)", fontsize=13, ha="center", va="center", rotation=90)
ftext(285, 791, "Weight on Eigenvector", fontsize=11.5, ha="center", va="center", rotation=90)
ftext(434, 939, r"$\mathbf{i}$: model eigenvector index", fontsize=11.5, ha="center",
      va="center")

# ---------------------------------------------------------------- panel letters
for letter, x, y in [("A", 17, 15), ("B", 17, 316), ("C", 16, 621), ("D", 261, 621)]:
    ftext(x, y, letter, fontsize=17, fontweight="bold", ha="center", va="center")

fig.savefig("out.png", dpi=100)
